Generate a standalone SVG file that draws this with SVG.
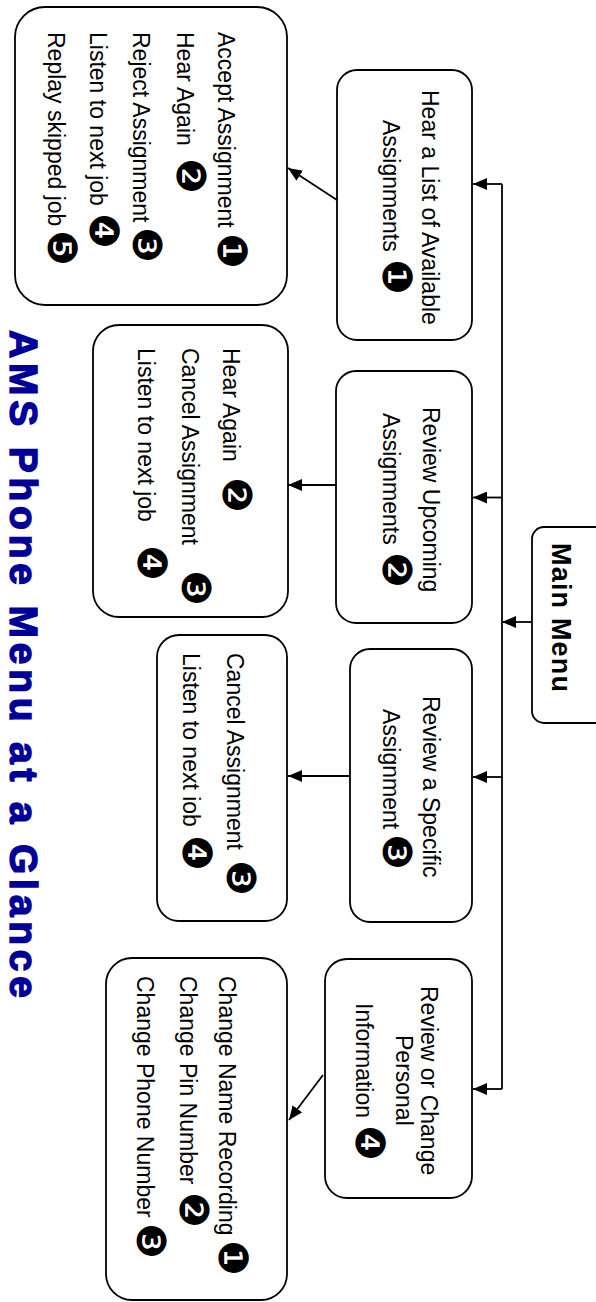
<svg xmlns="http://www.w3.org/2000/svg" width="596" height="1302" viewBox="0 0 596 1302">
<defs>
<marker id="arr" viewBox="0 0 14 12" refX="14" refY="6" markerWidth="14" markerHeight="12" orient="auto" markerUnits="userSpaceOnUse">
<path d="M0,0 L14,6 L0,12 Z" fill="#000"/>
</marker>
<style>
.box{fill:#fff;stroke:#000;stroke-width:1.8}
.t{font-family:"Liberation Sans",Arial,sans-serif;font-size:23px;fill:#000}
.n{font-family:"DejaVu Sans",sans-serif;font-size:40px}
.mm{font-family:"Liberation Sans",Arial,sans-serif;font-size:27px;font-weight:bold;fill:#000}
.title{font-family:"Liberation Sans",Arial,sans-serif;font-size:39px;font-weight:bold;fill:#000099;stroke:#000099;stroke-width:1.4}
.c{fill:none;stroke:#000;stroke-width:1.8}
</style>
</defs>
<rect width="596" height="1302" fill="#fff"/>

<g id="connectors">
<path class="c" d="M502,184 V1089"/>
<path class="c" d="M502,184 H473" marker-end="url(#arr)"/>
<path class="c" d="M502,497.5 H473" marker-end="url(#arr)"/>
<path class="c" d="M502,777 H473" marker-end="url(#arr)"/>
<path class="c" d="M502,1089 H473" marker-end="url(#arr)"/>
<path class="c" d="M532,622 H502" marker-end="url(#arr)"/>
<path class="c" d="M337,200 L288,168" marker-end="url(#arr)"/>
<path class="c" d="M336,485 H288" marker-end="url(#arr)"/>
<path class="c" d="M350,776 H288" marker-end="url(#arr)"/>
<path class="c" d="M323,1075 L289,1120" marker-end="url(#arr)"/>
</g>

<g id="title">
<text class="title" transform="rotate(90)" x="330" y="-10" textLength="668">AMS Phone Menu at a Glance</text>
</g>

<g id="main-menu">
<rect class="box" x="532" y="527" width="90" height="196" rx="12"/>
<text class="mm" transform="rotate(90)" x="543" y="-552" textLength="149">Main Menu</text>
</g>

<g id="hear-list">
<rect class="box" x="337" y="70" width="135" height="270" rx="20"/>
<g transform="rotate(90)">
<text class="t" x="90" y="-422">Hear a List of Available</text>
<text class="t" x="120" y="-383">Assignments <tspan class="n" x="259">❶</tspan></text>
</g>
</g>

<g id="list-options">
<rect class="box" x="15" y="7" width="272" height="298" rx="30"/>
<g transform="rotate(90)">
<text class="t" x="32" y="-218">Accept Assignment <tspan class="n" x="233">❶</tspan></text>
<text class="t" x="32" y="-177">Hear Again <tspan class="n" x="158">❷</tspan></text>
<text class="t" x="32" y="-133">Reject Assignment <tspan class="n" x="227">❸</tspan></text>
<text class="t" x="32" y="-90">Listen to next job <tspan class="n" x="213">❹</tspan></text>
<text class="t" x="32" y="-48">Replay skipped job <tspan class="n" x="230">❺</tspan></text>
</g>
</g>

<g id="review-upcoming">
<rect class="box" x="336" y="371" width="136" height="252" rx="20"/>
<g transform="rotate(90)">
<text class="t" x="407" y="-423">Review Upcoming</text>
<text class="t" x="413" y="-383">Assignments <tspan class="n" x="552">❷</tspan></text>
</g>
</g>

<g id="upcoming-options">
<rect class="box" x="93" y="325" width="195" height="292" rx="26"/>
<g transform="rotate(90)">
<text class="t" x="348" y="-223">Hear Again <tspan class="n" x="477">❷</tspan></text>
<text class="t" x="348" y="-182">Cancel Assignment <tspan class="n" x="570">❸</tspan></text>
<text class="t" x="348" y="-138">Listen to next job <tspan class="n" x="545">❹</tspan></text>
</g>
</g>

<g id="review-specific">
<rect class="box" x="350" y="649" width="122" height="273" rx="20"/>
<g transform="rotate(90)">
<text class="t" x="696" y="-423">Review a Specific</text>
<text class="t" x="709" y="-383">Assignment <tspan class="n" x="834">❸</tspan></text>
</g>
</g>

<g id="specific-options">
<rect class="box" x="157" y="635" width="130" height="286" rx="22"/>
<g transform="rotate(90)">
<text class="t" x="653" y="-227">Cancel Assignment <tspan class="n" x="860">❸</tspan></text>
<text class="t" x="653" y="-183">Listen to next iob <tspan class="n" x="835">❹</tspan></text>
</g>
</g>

<g id="review-personal">
<rect class="box" x="325" y="959" width="147" height="239" rx="22"/>
<g transform="rotate(90)">
<text class="t" x="986" y="-421">Review or Change</text>
<text class="t" x="1035" y="-396">Personal</text>
<text class="t" x="1003" y="-356">Information <tspan class="n" x="1125">❹</tspan></text>
</g>
</g>

<g id="personal-options">
<rect class="box" x="106" y="958" width="181" height="342" rx="26"/>
<g transform="rotate(90)">
<text class="t" x="976" y="-219">Change Name Recording <tspan class="n" x="1240">❶</tspan></text>
<text class="t" x="976" y="-180">Change Pin Number <tspan class="n" x="1192">❷</tspan></text>
<text class="t" x="976" y="-137">Change Phone Number <tspan class="n" x="1223">❸</tspan></text>
</g>
</g>
</svg>
